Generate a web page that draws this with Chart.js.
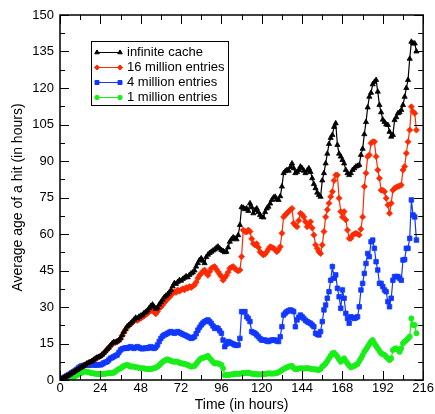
<!DOCTYPE html>
<html>
<head>
<meta charset="utf-8">
<script src="https://cdn.jsdelivr.net/npm/chart.js@4.4.0/dist/chart.umd.min.js"></script>
<style>
  html, body { margin: 0; padding: 0; background: #fff; }
  #chart { display: block; }
</style>
</head>
<body>
<canvas id="chart" width="435" height="414"></canvas>
<script>
// hourly samples, t = 0 .. 212
const hours = Array.from({ length: 213 }, (_, i) => i);

const infiniteCache = [
  0, 0.4, 0.8, 1.2, 1.6, 2.0, 2.4, 2.9, 3.3, 3.7, 4.1, 4.6,
  5.0, 5.4, 5.8, 6.3, 6.8, 7.1, 7.4, 7.8, 8.3, 8.8, 9.2, 9.5,
  9.8, 10.4, 11.0, 11.8, 12.6, 13.3, 14.2, 15.0, 15.6, 15.4, 15.9, 16.3,
  17.2, 18.5, 19.8, 20.9, 22.0, 22.6, 23.3, 24.0, 24.8, 25.6, 25.3, 26.0,
  26.4, 26.8, 27.5, 28.0, 28.6, 29.5, 30.4, 31.0, 30.1, 29.3, 29.8, 31.0,
  32.0, 33.0, 34.0, 34.6, 35.2, 36.0, 37.0, 38.5, 39.8, 39.5, 40.3, 41.0,
  40.8, 41.5, 42.0, 42.6, 42.2, 43.2, 43.8, 44.2, 45.0, 46.6, 48.0, 49.3,
  50.0, 49.0, 48.0, 50.5, 51.5, 52.2, 52.7, 53.2, 53.6, 54.4, 54.8, 54.0,
  53.4, 53.0, 52.5, 52.7, 54.5, 56.8, 57.8, 58.6, 58.2, 57.8, 59.5, 63.7,
  71.0, 70.8, 70.2, 70.5, 69.5, 72.6, 71.0, 68.5, 69.8, 70.5, 69.0, 67.8,
  67.0, 66.8, 69.0, 70.5, 71.2, 72.5, 74.0, 75.0, 75.3, 74.2, 74.0, 75.5,
  79.5, 85.0, 85.8, 86.3, 86.0, 87.5, 89.0, 87.0, 85.0, 85.5, 86.3, 87.7,
  87.0, 86.0, 85.0, 86.0, 87.0, 85.5, 82.9, 80.5, 78.8, 77.0, 76.0, 75.3,
  82.0, 85.0, 89.0, 93.0, 97.0, 99.5, 100.7, 104.0, 105.5, 96.6, 93.0, 91.8,
  90.4, 89.0, 86.3, 85.0, 84.2, 85.0, 86.3, 87.0, 87.7, 88.0, 88.4, 92.5,
  95.0, 101.0, 106.0, 112.0, 116.4, 118.0, 121.5, 122.5, 123.3, 118.5, 113.0, 110.0,
  107.0, 106.0, 105.0, 104.8, 102.0, 100.0, 100.7, 106.8, 108.0, 109.6, 110.0, 111.0,
  113.0, 116.4, 120.0, 123.3, 132.0, 139.0, 138.3, 138.3, 135.0
];

const entries16M = [
  0, 0.4, 0.8, 1.2, 1.6, 2.0, 2.4, 2.8, 3.3, 3.7, 4.1, 4.5,
  5.0, 5.4, 5.8, 6.2, 6.6, 7.0, 7.4, 7.8, 8.2, 8.6, 9.0, 9.4,
  9.8, 10.4, 11.0, 11.7, 12.5, 13.3, 14.0, 14.8, 15.5, 15.3, 15.8, 16.2,
  17.0, 18.3, 19.6, 20.7, 21.8, 22.4, 23.0, 23.6, 24.2, 24.8, 24.5, 25.0,
  25.4, 25.8, 26.3, 26.8, 27.4, 28.0, 28.4, 28.9, 27.8, 27.2, 28.2, 29.5,
  30.0, 30.8, 31.8, 32.6, 33.4, 34.0, 34.8, 35.6, 36.3, 36.0, 37.0, 36.5,
  37.0, 37.5, 37.0, 38.0, 37.7, 38.4, 38.0, 38.6, 39.0, 40.2, 41.8, 43.0,
  43.8, 44.6, 45.2, 44.0, 43.0, 44.5, 45.9, 46.3, 46.6, 45.5, 44.5, 43.5,
  42.5, 41.0, 42.0, 43.0, 44.3, 45.9, 46.3, 46.6, 45.8, 45.2, 44.8, 45.2,
  50.7, 61.6, 61.0, 60.8, 61.6, 61.0, 58.0, 56.0, 55.5, 56.0, 54.5, 52.7,
  52.0, 51.4, 51.8, 52.7, 53.8, 54.8, 54.5, 54.2, 53.5, 52.7, 53.5, 54.8,
  60.3, 67.0, 67.8, 68.5, 69.2, 69.9, 70.5, 64.4, 63.5, 63.0, 65.5, 68.5,
  68.0, 67.0, 65.0, 63.0, 64.0, 65.0, 62.5, 59.6, 55.5, 54.0, 52.7, 52.0,
  55.5, 61.0, 67.0, 70.0, 72.6, 75.3, 77.4, 82.0, 84.2, 84.2, 74.7, 69.2,
  67.0, 69.2, 65.8, 61.6, 58.2, 58.2, 59.6, 60.0, 60.3, 60.0, 59.6, 62.0,
  67.0, 79.5, 85.0, 91.8, 92.5, 97.3, 97.9, 97.9, 91.8, 86.3, 82.9, 78.0,
  78.0, 77.4, 74.7, 71.9, 68.5, 72.6, 78.0, 78.8, 79.2, 79.5, 79.8, 80.1,
  86.3, 87.7, 93.2, 97.9, 102.7, 112.3, 110.3, 109.6, 102.7
];

const entries4M = [
  0, 0.4, 0.9, 1.3, 1.7, 2.1, 2.5, 3.0, 3.4, 3.9, 4.4, 5.0,
  5.5, 5.8, 6.0, 6.2, 6.2, 6.1, 6.2, 6.3, 6.2, 6.1, 6.2, 6.3,
  6.2, 6.5, 7.0, 7.3, 7.5, 8.2, 8.9, 9.2, 9.6, 10.0, 10.3, 11.3,
  12.3, 12.8, 13.0, 13.2, 13.0, 13.4, 13.7, 13.3, 13.0, 13.4, 13.7, 13.4,
  13.0, 12.8, 13.0, 13.2, 13.0, 13.4, 13.7, 13.2, 13.0, 13.5, 14.4, 15.8,
  17.1, 18.0, 18.5, 18.8, 19.2, 19.6, 19.9, 19.5, 19.2, 19.6, 19.9, 19.5,
  19.2, 18.8, 18.5, 18.2, 17.8, 17.5, 17.1, 17.4, 17.8, 19.0, 20.5, 21.6,
  22.6, 23.4, 24.0, 24.3, 24.7, 24.0, 23.3, 22.2, 21.2, 21.5, 21.2, 20.2,
  19.2, 16.4, 13.7, 14.8, 15.8, 15.5, 15.1, 14.8, 14.4, 14.2, 14.4, 17.1,
  28.1, 28.0, 28.1, 26.0, 25.3, 24.0, 19.9, 19.5, 19.2, 18.5, 17.8, 17.0,
  16.4, 16.4, 16.4, 16.0, 15.8, 16.2, 16.4, 16.4, 16.4, 16.0, 15.8, 17.8,
  21.9, 26.7, 27.5, 28.1, 28.5, 28.8, 28.5, 28.1, 21.9, 24.7, 25.8, 26.7,
  26.0, 25.3, 24.5, 24.0, 23.6, 23.3, 22.6, 21.9, 19.2, 18.8, 18.5, 19.9,
  24.0, 28.8, 30.8, 33.6, 36.3, 41.0, 46.6, 41.8, 43.2, 37.7, 34.2, 29.5,
  37.0, 33.6, 27.4, 25.3, 23.3, 26.0, 25.6, 25.3, 25.6, 26.0, 30.1, 37.0,
  39.7, 43.8, 47.9, 52.0, 50.7, 56.8, 57.5, 54.1, 48.6, 45.2, 39.7, 39.7,
  38.4, 37.0, 36.3, 32.2, 30.1, 33.6, 41.0, 42.5, 42.5, 42.5, 41.8, 41.0,
  49.3, 49.5, 54.1, 54.1, 58.2, 74.0, 67.8, 67.0, 57.5
];

const entries1M = [
  0, 0, 0.1, 0.2, 0.3, 0.4, 0.6, 0.8, 1.1, 1.5, 2.0, 2.4,
  2.7, 3.0, 3.4, 3.5, 3.4, 3.2, 3.0, 2.8, 2.7, 2.6, 2.5, 2.5,
  2.5, 2.4, 2.5, 2.6, 2.7, 2.8, 2.8, 2.9, 3.0, 3.5, 4.1, 4.5,
  4.8, 5.3, 5.8, 6.0, 6.2, 5.9, 5.5, 5.6, 5.5, 5.3, 5.2, 5.0,
  4.8, 4.8, 4.8, 4.6, 4.5, 4.5, 4.5, 4.7, 4.8, 5.1, 5.5, 6.1,
  6.8, 7.4, 7.9, 8.3, 8.5, 8.2, 7.9, 7.6, 7.5, 7.6, 7.5, 7.1,
  6.8, 6.8, 6.6, 6.4, 6.2, 5.8, 5.5, 5.6, 5.8, 6.6, 7.5, 8.3,
  8.9, 9.1, 9.3, 9.6, 9.9, 9.0, 8.2, 7.4, 6.8, 6.9, 6.8, 6.5,
  6.2, 4.8, 2.0, 2.1, 2.0, 2.2, 2.3, 2.4, 2.5, 2.6, 2.5, 2.6,
  2.7, 2.9, 2.8, 2.9, 3.0, 2.8, 2.6, 2.5, 2.5, 2.4, 2.3, 2.3,
  2.3, 2.4, 2.5, 2.6, 2.7, 2.7, 2.6, 2.7, 2.7, 2.9, 3.2, 3.6,
  4.1, 4.5, 4.9, 5.2, 5.5, 5.7, 5.8, 5.0, 4.4, 4.5, 4.7, 4.8,
  4.8, 4.7, 4.8, 4.9, 4.8, 4.6, 4.5, 4.4, 4.4, 4.2, 4.1, 4.6,
  5.5, 6.1, 6.8, 7.8, 8.9, 10.0, 11.0, 11.2, 10.4, 9.6, 8.5, 7.5,
  8.2, 8.9, 7.8, 6.8, 6.0, 5.2, 5.5, 5.8, 6.2, 6.6, 7.8, 8.9,
  10.2, 11.6, 12.6, 13.7, 14.8, 15.8, 16.4, 15.1, 14.0, 13.0, 12.0, 11.0,
  10.6, 10.3, 9.6, 8.9, 8.2, 8.9, 12.3, 12.8, 13.0, 12.4, 11.6, 13.0,
  15.1, 15.8, 16.4, 17.0, 17.8, 25.3, 22.6, 22.6, 19.2
];

const seriesLabels = ['infinite cache', '16 million entries', '4 million entries', '1 million entries'];
const xTicks = [0, 24, 48, 72, 96, 120, 144, 168, 192, 216];
const yTicks = [0, 15, 30, 45, 60, 75, 90, 105, 120, 135, 150];

const makeSet = (label, values, color, style, radius) => {
  return {
    label: label,
    data: values.map((v, i) => ({ x: hours[i], y: v })),
    borderColor: color,
    backgroundColor: color,
    borderWidth: 1.2,
    pointStyle: style,
    pointRadius: radius,
    pointBorderWidth: 0.8,
    pointBackgroundColor: color,
    pointBorderColor: color,
    tension: 0
  };
};

// frame round the plot, with the ticks pointing inwards on all four sides
const frameTicks = {
  id: 'frameTicks',
  afterDatasetsDraw(chart) {
    const { ctx, chartArea: area, scales } = chart;
    ctx.save();
    ctx.strokeStyle = '#000';
    ctx.lineWidth = 1;
    const xMark = (v, len) => {
      const px = Math.round(scales.x.getPixelForValue(v)) + 0.5;
      ctx.beginPath();
      ctx.moveTo(px, area.bottom);
      ctx.lineTo(px, area.bottom - len);
      ctx.moveTo(px, area.top);
      ctx.lineTo(px, area.top + len);
      ctx.stroke();
    };
    const yMark = (v, len) => {
      const py = Math.round(scales.y.getPixelForValue(v)) + 0.5;
      ctx.beginPath();
      ctx.moveTo(area.left, py);
      ctx.lineTo(area.left + len, py);
      ctx.moveTo(area.right, py);
      ctx.lineTo(area.right - len, py);
      ctx.stroke();
    };
    for (let i = 0; i < xTicks.length; i++) {
      xMark(xTicks[i], 9);
      if (i < xTicks.length - 1) xMark((xTicks[i] + xTicks[i + 1]) / 2, 5);
    }
    for (let i = 0; i < yTicks.length; i++) {
      yMark(yTicks[i], 9);
      if (i < yTicks.length - 1) yMark((yTicks[i] + yTicks[i + 1]) / 2, 5);
    }
    ctx.lineWidth = 1.5;
    ctx.strokeRect(area.left, area.top, area.right - area.left, area.bottom - area.top);
    ctx.restore();
  }
};

// boxed legend in the upper left of the plot
const boxLegend = {
  id: 'boxLegend',
  afterDraw(chart) {
    const ctx = chart.ctx;
    const sets = chart.data.datasets;
    ctx.save();
    ctx.fillStyle = '#fff';
    ctx.fillRect(91, 41, 138, 65);
    ctx.strokeStyle = '#000';
    ctx.lineWidth = 1;
    ctx.strokeRect(91.5, 41.5, 137, 64);
    ctx.font = '13px "Liberation Sans", Arial, sans-serif';
    ctx.textBaseline = 'middle';
    sets.forEach((ds, i) => {
      const y = Math.round(52 + i * 14.9) + 0.5;
      ctx.strokeStyle = ds.borderColor;
      ctx.fillStyle = ds.borderColor;
      ctx.lineWidth = 1;
      ctx.beginPath();
      ctx.moveTo(97, y);
      ctx.lineTo(120, y);
      ctx.stroke();
      [97, 120].forEach((x) => {
        Chart.helpers.drawPoint(ctx, {
          pointStyle: ds.pointStyle,
          radius: ds.pointRadius - 0.4,
          rotation: 0,
          borderWidth: 0.5
        }, x, y);
      });
      ctx.fillStyle = '#000';
      ctx.fillText(ds.label, 127, y);
    });
    ctx.restore();
  }
};

const ctx = document.getElementById('chart').getContext('2d');
const myChart = new Chart(ctx, {
  type: 'line',
  data: {
    datasets: [
      makeSet(seriesLabels[0], infiniteCache, '#000000', 'triangle', 3),
      makeSet(seriesLabels[1], entries16M, '#ff2a00', 'rectRot', 3),
      makeSet(seriesLabels[2], entries4M, '#1238ff', 'rect', 3.2),
      makeSet(seriesLabels[3], entries1M, '#18ee18', 'circle', 2.6)
    ]
  },
  options: {
    responsive: false,
    animation: false,
    devicePixelRatio: 1,
    layout: { padding: { left: 0, right: 11, top: 15, bottom: 0 } },
    plugins: {
      legend: { display: false },
      tooltip: { enabled: false }
    },
    scales: {
      x: {
        type: 'linear',
        min: 0,
        max: 216,
        afterBuildTicks: (scale) => { scale.ticks = xTicks.map((v) => ({ value: v })); },
        afterFit: (scale) => { scale.height = 34; },
        grid: { display: false, drawTicks: false },
        border: { display: false },
        ticks: {
          padding: 1,
          maxRotation: 0,
          autoSkip: false,
          color: '#000',
          font: { family: '"Liberation Sans", Arial, sans-serif', size: 13 }
        },
        title: {
          display: true,
          text: 'Time (in hours)',
          color: '#000',
          padding: { top: 0, bottom: 0 },
          font: { family: '"Liberation Sans", Arial, sans-serif', size: 14 }
        }
      },
      y: {
        min: 0,
        max: 150,
        afterBuildTicks: (scale) => { scale.ticks = yTicks.map((v) => ({ value: v })); },
        afterFit: (scale) => { scale.width = 60; },
        grid: { display: false, drawTicks: false },
        border: { display: false },
        ticks: {
          padding: 6,
          color: '#000',
          font: { family: '"Liberation Sans", Arial, sans-serif', size: 13 }
        },
        title: {
          display: true,
          text: 'Average age of a hit (in hours)',
          color: '#000',
          padding: { top: 10, bottom: 0 },
          font: { family: '"Liberation Sans", Arial, sans-serif', size: 14 }
        }
      }
    }
  },
  plugins: [frameTicks, boxLegend]
});
</script>
</body>
</html>
